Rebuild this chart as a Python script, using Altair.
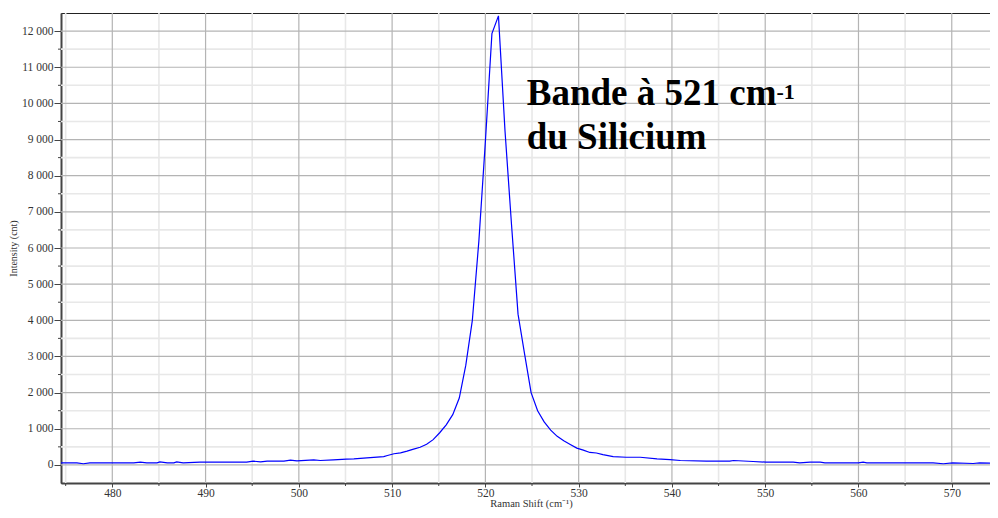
import altair as alt
import pandas as pd

# Raman shift (cm-1) and intensity (cnt)
shift = [474.5, 476.2, 476.9, 477.6, 482.3, 483.0, 483.7, 484.8, 485.1, 485.9,
         486.6, 486.9, 487.6, 489.4, 494.4, 495.1, 495.9, 496.6, 498.4, 499.1,
         499.8, 501.6, 502.3, 503.7, 505.1, 505.9, 507.3, 509.1, 509.5, 510.2,
         510.9, 511.6, 512.3, 513.0, 513.7, 514.4, 515.1, 515.8, 516.5, 517.2,
         517.9, 518.6, 519.3, 520.0, 520.7, 521.4, 522.1, 522.8, 523.5, 524.2,
         524.9, 525.6, 526.3, 527.0, 527.7, 528.4, 529.1, 529.8, 530.5, 531.2,
         531.9, 532.6, 533.7, 535.1, 536.6, 538.4, 539.8, 540.9, 543.7, 546.2,
         546.6, 548.7, 550.1, 553.0, 553.7, 554.8, 555.9, 556.4, 560.0, 560.5,
         560.9, 568.0, 569.1, 570.1, 572.3, 573.0, 574.8]
intensity = [59, 59, 32, 59, 59, 77, 59, 59, 86, 59,
             59, 86, 59, 77, 77, 104, 86, 104, 104, 131,
             113, 140, 122, 140, 158, 167, 194, 230, 260, 310,
             335, 380, 435, 490, 570, 700, 890, 1110, 1390, 1850,
             2760, 4000, 6190, 8950, 11930, 12420, 9250, 6650, 4170, 3070,
             2000, 1500, 1190, 960, 790, 670, 565, 465, 410, 345,
             330, 285, 230, 212, 212, 167, 149, 122, 104, 104,
             122, 95, 77, 77, 59, 77, 77, 59, 59, 77,
             59, 59, 32, 59, 40, 59, 40]

x_major = [480, 490, 500, 510, 520, 530, 540, 550, 560, 570]
x_minor = [475, 485, 495, 505, 515, 525, 535, 545, 555, 565]
y_major = [0, 1000, 2000, 3000, 4000, 5000, 6000, 7000, 8000, 9000, 10000,
           11000, 12000]
y_minor = [500, 1500, 2500, 3500, 4500, 5500, 6500, 7500, 8500, 9500, 10500,
           11500]

ann_text = ["Bande à 521 cm", "du Silicium"]
ann_x = [524.43, 524.43]
ann_y = [9955, 8738]
sup_text = ["-1"]
sup_x = [551.2]
sup_y = [10121]

W, H = 929, 470
FONT = "Liberation Serif"

df = pd.DataFrame({"shift": shift, "intensity": intensity})
ann = pd.DataFrame({"x": ann_x, "y": ann_y, "t": ann_text})
sup = pd.DataFrame({"x": sup_x, "y": sup_y, "t": sup_text})
gx_maj = pd.DataFrame({"v": x_major})
gx_min = pd.DataFrame({"v": x_minor})
gy_maj = pd.DataFrame({"v": y_major})
gy_min = pd.DataFrame({"v": y_minor})

xscale = alt.Scale(domain=[474.5, 574.1], nice=False, zero=False)
yscale = alt.Scale(domain=[-500, 12500], nice=False, zero=False)

x_axis = alt.Axis(
    values=x_major, title="Raman Shift (cm⁻¹)", format="d", grid=False,
    tickSize=4, labelOverlap=False,
    labelFont=FONT, labelFontSize=11.5, labelColor="#333", labelPadding=0,
    titleFont=FONT, titleFontSize=10.5, titleFontWeight="normal", titleColor="#333",
    titlePadding=0, titleX=470,
    domainColor="#444", domainWidth=2, tickColor="#444", labelFlush=False,
)
y_axis = alt.Axis(
    values=y_major, title="Intensity (cnt)", grid=False,
    labelExpr="replace(format(datum.value, ','), ',', ' ')",
    tickSize=7, labelOverlap=False,
    labelFont=FONT, labelFontSize=11.5, labelColor="#333", labelPadding=1,
    titleFont=FONT, titleFontSize=10, titleFontWeight="normal", titleColor="#333",
    titlePadding=3,
    domainColor="#444", domainWidth=2, tickColor="#444", labelFlush=False,
)


def X(field):
    return alt.X(field, scale=xscale, axis=x_axis)


def Y(field):
    return alt.Y(field, scale=yscale, axis=y_axis)


minor_style = dict(color="#e8e8e8", strokeWidth=1.6)
major_style = dict(color="#b4b4b4", strokeWidth=1.2)

grid_x_min = alt.Chart(gx_min).mark_rule(**minor_style).encode(x=X("v:Q"))
grid_y_min = alt.Chart(gy_min).mark_rule(**minor_style).encode(y=Y("v:Q"))
grid_x_maj = alt.Chart(gx_maj).mark_rule(**major_style).encode(x=X("v:Q"))
grid_y_maj = alt.Chart(gy_maj).mark_rule(**major_style).encode(y=Y("v:Q"))

tick_x_min = alt.Chart(gx_min).mark_rule(color="#444", strokeWidth=1).encode(
    x=X("v:Q"), y=alt.value(H), y2=alt.value(H + 3))
tick_y_min = alt.Chart(gy_min).mark_rule(color="#444", strokeWidth=1).encode(
    y=Y("v:Q"), x=alt.value(-3), x2=alt.value(0))

line = alt.Chart(df).mark_line(color="#0000ff", strokeWidth=1.2, clip=True).encode(
    x=X("shift:Q"), y=Y("intensity:Q"))

text = alt.Chart(ann).mark_text(
    font=FONT, fontSize=37, fontWeight="bold", align="left",
    baseline="alphabetic", color="black",
).encode(x=X("x:Q"), y=Y("y:Q"), text="t:N")

suptext = alt.Chart(sup).mark_text(
    font=FONT, fontSize=22, fontWeight="bold", align="left",
    baseline="alphabetic", color="black",
).encode(x=X("x:Q"), y=Y("y:Q"), text="t:N")

chart = alt.layer(
    grid_x_min, grid_y_min, grid_x_maj, grid_y_maj, tick_x_min, tick_y_min,
    line, text, suptext,
).properties(
    width=W, height=H,
    autosize=alt.AutoSizeParams(type="none"),
    padding={"left": 53, "top": 5, "right": 0, "bottom": 27},
    background="white",
).configure_view(stroke="#222", strokeWidth=1)

chart.save("out.html", embed_options={"renderer": "svg", "actions": False})
